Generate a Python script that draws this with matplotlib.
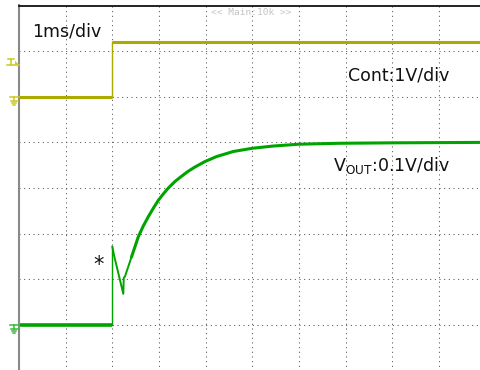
import numpy as np
import matplotlib
matplotlib.use("Agg")
import matplotlib.pyplot as plt
from matplotlib.lines import Line2D
from matplotlib.patches import Polygon

# ---- scope settings ----
time_per_div_ms = 1.0
x_range_ms = (-2.0, 8.0)          # 10 horizontal divisions, trigger at 2 div
cont_volts_per_div = 1.0
cont_ground_div = 6               # Cont ground marker 6 div above bottom
vout_volts_per_div = 0.1
vout_ground_div = 1               # VOUT ground marker 1 div above bottom
trigger_level_v = 0.7

# ---- Cont (control) channel: low -> high step at t = 0 ----
cont_t = [-2.0, 0.0, 0.0, 8.0]
cont_v = [0.0, 0.0, 1.2, 1.2]

# ---- VOUT channel ----
vout_t = [-2.0, 0.0, 0.0, 0.035, 0.235, 0.245, 0.27, 0.415, 0.556, 0.66,
          0.77, 0.88, 0.985, 1.1, 1.2, 1.35, 1.486, 1.63, 1.771, 1.985,
          2.236, 2.592, 2.993, 3.449, 4.0, 4.857, 6.0, 8.0]
vout_v = [0.0, 0.0, 0.1715, 0.153, 0.068, 0.103, 0.106, 0.150, 0.193, 0.216,
          0.237, 0.256, 0.273, 0.288, 0.300, 0.315, 0.326, 0.337, 0.346, 0.358,
          0.369, 0.380, 0.387, 0.392, 0.396, 0.398, 0.399, 0.400]

YELLOW = "#aaaa00"
YELLOW_LIGHT = "#caca20"
GREEN = "#00a400"
GREEN_LIGHT = "#38b838"

fig = plt.figure(figsize=(4.8, 3.7), dpi=100)
W, H = 480.0, 370.0
ax = fig.add_axes([19 / W, (H - 370.5) / H, 466.7 / W, 365.0 / H])

# VOUT scale: 8 vertical divisions
v_lo = -vout_ground_div * vout_volts_per_div
ax.set_xlim(*x_range_ms)
ax.set_ylim(v_lo, v_lo + 8 * vout_volts_per_div)

# Cont scale on a twin axis
ax2 = ax.twinx()
c_lo = -cont_ground_div * cont_volts_per_div
ax2.set_ylim(c_lo, c_lo + 8 * cont_volts_per_div)

# dotted graticule
ax.set_xticks(np.arange(x_range_ms[0], x_range_ms[1] + 0.5, time_per_div_ms))
ax.set_yticks(np.linspace(v_lo, v_lo + 8 * vout_volts_per_div, 9))
ax.grid(True, color="#555555", lw=0.75, linestyle=(0, (1, 3.48)))
ax.set_axisbelow(True)
for a in (ax, ax2):
    a.tick_params(length=0, labelleft=False, labelbottom=False,
                  labelright=False)
    for s in ("right", "bottom"):
        a.spines[s].set_visible(False)
ax2.spines["top"].set_visible(False)
ax2.spines["left"].set_visible(False)
ax2.set_yticks([])
ax.spines["top"].set_color("#111111")
ax.spines["top"].set_linewidth(1.3)
ax.spines["left"].set_color("#8a8a8a")
ax.spines["left"].set_linewidth(1.5)

# ---- traces ----
# Cont: thick levels, thin edge
ax2.plot(cont_t[:2], cont_v[:2], color=YELLOW, lw=2.2, solid_capstyle="butt")
ax2.plot(cont_t[2:], cont_v[2:], color=YELLOW, lw=2.2, solid_capstyle="butt")
ax2.plot(cont_t[1:3], cont_v[1:3], color=YELLOW, lw=1.0)

# VOUT: thick baseline, thin step edge, spike and recovery
ax.plot(vout_t[:2], vout_v[:2], color=GREEN, lw=2.6, solid_capstyle="butt")
ax.plot(vout_t[1:3], vout_v[1:3], color=GREEN, lw=1.0)
ax.plot(vout_t[2:8], vout_v[2:8], color=GREEN, lw=1.4)
ax.plot(vout_t[7:], vout_v[7:], color=GREEN, lw=2.2)

# ---- channel markers left of the graticule ----
fig.canvas.draw()


def level_px(a, v):
    return a.transData.transform((0.0, v))[1]


def ground_marker(a, v, color):
    y = level_px(a, v)
    segs = [((10, 19), (y, y)), ((14, 14), (y, y - 4)),
            ((10.5, 17.5), (y - 4.5, y - 4.5)), ((12, 16), (y - 6.5, y - 6.5)),
            ((13, 15), (y - 8.5, y - 8.5))]
    for xs, ys in segs:
        fig.add_artist(Line2D(xs, ys, transform=None, color=color, lw=1.1))


ground_marker(ax2, 0.0, YELLOW_LIGHT)
ground_marker(ax, 0.0, GREEN_LIGHT)

# trigger level marker
ty = level_px(ax2, trigger_level_v)
for xs, ys in [((8, 14), (ty + 6, ty + 6)), ((11, 11), (ty + 6, ty)),
               ((7, 19), (ty, ty))]:
    fig.add_artist(Line2D(xs, ys, transform=None, color=YELLOW_LIGHT, lw=1.1))
fig.add_artist(Polygon([(15, ty + 4), (19, ty), (15, ty)], closed=True,
                       transform=None, color=YELLOW_LIGHT, lw=0))

# ---- annotations ----
ax.text(0.028, 0.928, "1ms/div", transform=ax.transAxes, fontsize=12.5,
        va="center", ha="left", color="#111111")
ax.text(0.7056, 0.807, "Cont:1V/div", transform=ax.transAxes, fontsize=12.5,
        va="center", ha="left", color="#111111")
ax.text(0.672, 0.563, r"V$_{\mathregular{OUT}}$:0.1V/div",
        transform=ax.transAxes, fontsize=12.5, va="center", ha="left",
        color="#111111")
ax.text(0.170, 0.29, "*", transform=ax.transAxes, fontsize=15,
        va="center", ha="center", color="#111111")
ax.text(0.4975, 0.981, "<< Main:10k >>", transform=ax.transAxes,
        fontsize=6.8, family="DejaVu Sans Mono", va="center", ha="center",
        color="#c4c4c4")

fig.savefig("out.png", dpi=100)
